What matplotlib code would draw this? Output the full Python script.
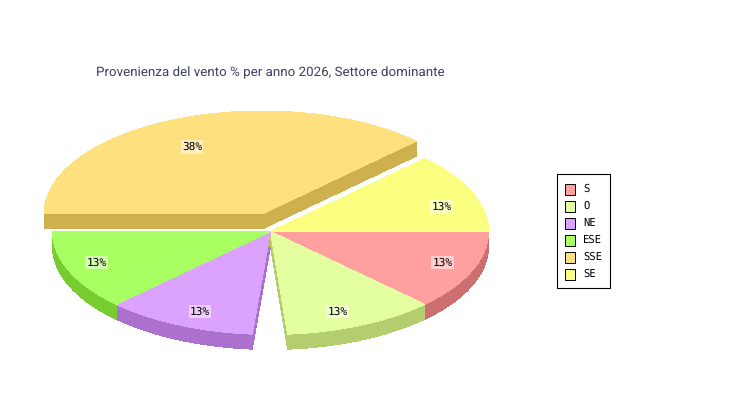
import numpy as np
import matplotlib
matplotlib.use('Agg')
import matplotlib.pyplot as plt
from matplotlib.patches import Rectangle

labels = ['S', 'O', 'NE', 'ESE', 'SSE', 'SE']
values = [12.5, 12.5, 12.5, 12.5, 37.5, 12.5]
top_colors = ['#ff9f9f', '#e3ff9f', '#dca2ff', '#a8ff62', '#ffe07f', '#fbff7f']
side_colors = ['#cc6f70', '#b3cd6f', '#ac70cf', '#77cc30', '#cfb04e', '#cccc50']
title = 'Provenienza del vento % per anno 2026, Settore dominante'

# pie geometry, pixels
cx, cy = 270.5, 231.5
rx, ry = 218, 103
depth = 15
explode = {'SSE': (-8.5, -17.5)}
# the bottom slices are narrowed on the side facing each other
trim_start = {'NE': 4.8}
trim_end = {'O': 4.5}
label_nudge = {'S': (1, -2.5), 'O': (-4, -1), 'NE': (0.5, -1), 'ESE': (-2.5, -2.5), 'SSE': (1, 14), 'SE': (0, 9)}

plt.rcParams['text.hinting'] = 'none'

fig = plt.figure(figsize=(7.5, 4), dpi=100)
ax = fig.add_axes([0, 0, 1, 1])
ax.set_xlim(0, 750)
ax.set_ylim(400, 0)
ax.axis('off')


def rim(a, x0, y0, r=1.0):
    a = np.radians(a)
    return x0 + r * rx * np.cos(a), y0 + r * ry * np.sin(a)


def poly(xs, ys, color):
    ax.fill(xs, ys, color=color, linewidth=0, antialiased=False)


edges = np.cumsum([0] + values) / sum(values) * 360
slices = []
for i, name in enumerate(labels):
    a0 = edges[i] + trim_start.get(name, 0)
    a1 = edges[i + 1] - trim_end.get(name, 0)
    dx, dy = explode.get(name, (0, 0))
    slices.append((name, a0, a1, cx + dx, cy + dy, i))

# radial walls, then outer bands, then the tops over them
for name, a0, a1, x0, y0, i in slices:
    for a in (a0, a1):
        xr, yr = rim(a, x0, y0)
        poly([x0, xr, xr, x0], [y0, yr, yr + depth, y0 + depth], side_colors[i])

for name, a0, a1, x0, y0, i in slices:
    lo, hi = max(a0, 0), min(a1, 180)
    if hi > lo:
        t = np.linspace(lo, hi, 80)
        xs, ys = rim(t, x0, y0)
        poly(np.r_[xs, xs[::-1]], np.r_[ys, ys[::-1] + depth], side_colors[i])

for name, a0, a1, x0, y0, i in slices:
    t = np.linspace(a0, a1, 120)
    xs, ys = rim(t, x0, y0)
    poly(np.r_[x0, xs], np.r_[y0, ys], top_colors[i])

for name, a0, a1, x0, y0, i in slices:
    mid = (edges[i] + edges[i + 1]) / 2
    xt, yt = rim(mid, x0, y0, 0.85)
    nx, ny = label_nudge[name]
    pct = 100 * values[i] / sum(values)
    ax.text(xt + nx, yt + ny, '%d%%' % np.floor(pct + 0.5), ha='center', va='center',
            fontsize=8, family='DejaVu Sans Mono', color='black',
            bbox=dict(facecolor='white', alpha=0.5, edgecolor='none', pad=1))

ax.text(96, 72.5, title, ha='left', va='center', fontsize=9.6, family='Roboto', color='#3a4060')

# legend box
ax.add_patch(Rectangle((557, 174), 53, 114, facecolor='white', edgecolor='black', linewidth=0.8))
for i, name in enumerate(labels):
    y = 189 + 17 * i
    ax.add_patch(Rectangle((565, y - 5.5), 10, 11, facecolor=top_colors[i], edgecolor='black',
                           linewidth=0.7))
    ax.text(583, y, name, ha='left', va='center', fontsize=7.6, family='DejaVu Sans Mono', color='black')

fig.savefig('out.png', dpi=100, facecolor='white')
